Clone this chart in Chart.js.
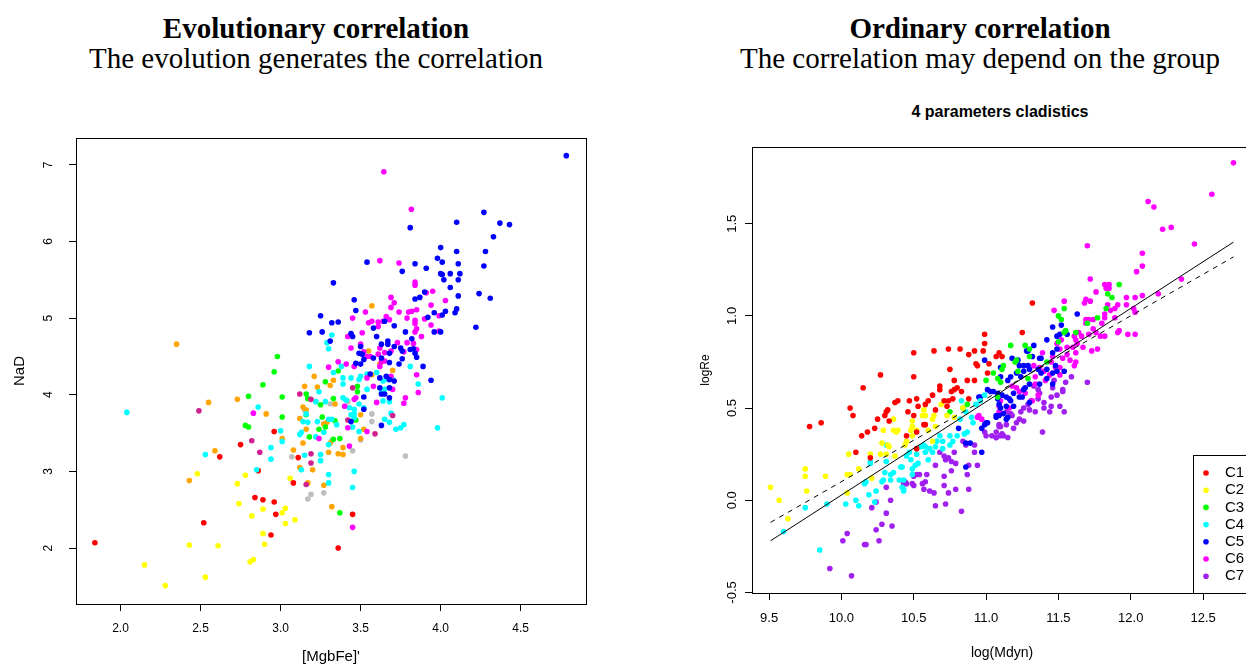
<!DOCTYPE html>
<html>
<head>
<meta charset="utf-8">
<script src="https://cdn.jsdelivr.net/npm/chart.js@4.4.0/dist/chart.umd.min.js"></script>
<style>
  html, body { margin: 0; padding: 0; background: #fff; }
  body { width: 1246px; height: 664px; position: relative; overflow: hidden; }
  .head { position: absolute; text-align: center; color: #000; white-space: nowrap;
          font-family: 'Liberation Serif', 'Times New Roman', serif; line-height: 30px; }
  .sub { position: absolute; text-align: center; color: #000; white-space: nowrap;
         font-family: 'Liberation Sans', Arial, sans-serif; font-weight: bold; }
  .panel { position: absolute; top: 0; }
</style>
</head>
<body>
<div class="head" style="left:0;width:632px;top:13px;font-size:29px;font-weight:bold">Evolutionary correlation</div>
<div class="head" style="left:0;width:632px;top:43px;font-size:29px">The evolution generates the correlation</div>
<div class="head" style="left:714px;width:532px;top:13px;font-size:29px;font-weight:bold">Ordinary correlation</div>
<div class="head" style="left:714px;width:532px;top:43px;font-size:29px">The correlation may depend on the group</div>
<div class="sub" style="left:800px;width:400px;top:103px;font-size:16px;line-height:18px">4 parameters cladistics</div>

<div class="panel" style="left:0;width:623px;height:664px"><canvas id="left" width="623" height="664"></canvas></div>
<div class="panel" style="left:623px;width:700px;height:664px"><canvas id="right" width="700" height="664"></canvas></div>

<script>
// ---- left panel: NaD vs [MgbFe]' ----
const leftXTicks = [2.0, 2.5, 3.0, 3.5, 4.0, 4.5];
const leftYTicks = [2, 3, 4, 5, 6, 7];

const leftRed = [[1.84,2.07],[2.52,2.33],[2.62,3.19],[2.75,3.35],[2.84,2.66],[2.86,3.01],[2.89,2.63],[2.94,2.17],
  [2.96,2.60],[2.96,3.52],[2.97,2.44],[3.08,2.85],[3.11,3.18],[3.36,2.00],[3.45,2.44]];
const leftYellow = [[2.15,1.78],[2.28,1.51],[2.43,2.04],[2.48,2.97],[2.53,1.62],[2.61,2.03],[2.73,2.84],[2.74,2.58],
  [2.78,2.95],[2.81,1.82],[2.82,2.42],[2.83,1.85],[2.89,2.51],[2.89,2.19],[2.90,2.05],[3.01,2.46],[3.03,2.52],
  [3.03,2.32],[3.06,2.91],[3.09,2.37]];
const leftOrange = [[2.35,4.66],[2.43,2.88],[2.55,3.90],[2.59,3.27],[2.73,3.94],[2.91,3.75],[3.01,3.43],[3.08,3.28],
  [3.12,3.05],[3.14,3.37],[3.17,2.85],[3.20,3.02],[3.27,2.82],[3.30,3.25],[3.32,2.54],[3.21,4.24],[3.33,4.19],
  [3.31,4.12],[3.15,4.11],[3.23,4.10],[3.14,3.84],[3.16,3.80],[3.12,3.69],[3.29,3.64],[3.27,3.62],[3.16,3.55],
  [3.31,3.37],[3.57,4.26],[3.70,4.32],[3.34,3.88],[3.50,3.74],[3.52,3.55],[3.50,3.43],[3.36,3.23],[3.39,3.22],
  [3.39,3.31],[3.57,5.16],[3.55,4.57],[3.62,4.40]];
const leftGreen = [[2.80,3.98],[2.89,4.13],[2.96,4.30],[2.78,3.60],[2.80,3.58],[3.01,3.97],[3.01,3.71],[2.98,4.50],
  [3.28,4.17],[3.16,4.01],[3.17,3.95],[3.25,3.87],[3.33,3.95],[3.16,3.74],[3.26,3.71],[3.24,3.55],[3.28,3.58],
  [3.18,3.45],[3.33,3.42],[3.36,4.31],[3.48,4.11],[3.48,4.04],[3.34,3.66],[3.47,3.67],[3.37,3.43],[3.37,2.46]];
const leftCyan = [[2.04,3.77],[2.53,3.22],[2.86,3.84],[2.85,3.02],[2.94,3.31],[2.94,3.16],[3.00,3.53],[3.01,3.39],
  [3.15,3.21],[3.13,3.02],[3.25,3.22],[3.25,3.14],[3.30,2.96],[3.30,2.85],[3.18,4.37],[3.24,4.04],[3.22,3.91],
  [3.28,3.91],[3.16,3.75],[3.14,3.65],[3.17,3.64],[3.23,3.65],[3.30,3.68],[3.32,3.68],[3.12,3.48],[3.13,3.51],
  [3.27,3.51],[3.30,3.35],[3.22,3.45],[3.32,4.78],[3.29,4.68],[3.30,4.60],[3.38,4.37],[3.81,4.37],[3.33,4.29],
  [3.39,4.22],[3.39,4.14],[3.44,4.22],[3.49,4.20],[3.50,4.24],[3.54,4.27],[3.60,4.29],[3.64,4.18],[3.67,4.20],
  [3.70,4.20],[3.65,4.07],[3.63,4.03],[3.39,3.96],[3.41,3.93],[3.43,3.83],[3.46,3.81],[3.49,3.88],[3.52,3.83],
  [3.54,4.07],[3.64,3.92],[3.68,3.91],[3.46,3.75],[3.44,3.74],[3.35,3.61],[3.46,3.70],[3.45,3.58],[3.49,3.52],
  [3.65,3.68],[3.68,3.64],[3.75,3.57],[3.77,3.61],[3.72,3.55],[3.69,3.76],[3.46,3.00],[3.45,2.79],[3.86,4.14],
  [4.01,3.96],[3.98,3.57]];
const leftBlue = [[3.33,5.46],[3.25,5.03],[3.32,4.94],[3.18,4.81],[3.26,4.82],[3.31,4.70],[4.785,7.12],[4.27,6.38],
  [4.10,6.25],[4.37,6.24],[4.43,6.22],[3.81,6.18],[4.33,6.06],[4.00,5.92],[4.10,5.87],[4.28,5.87],[3.54,5.73],
  [3.84,5.71],[3.98,5.78],[4.01,5.73],[4.11,5.71],[4.27,5.68],[3.76,5.61],[3.91,5.65],[4.00,5.58],[4.01,5.57],
  [4.06,5.58],[4.12,5.58],[4.02,5.50],[4.11,5.50],[4.06,5.40],[3.90,5.34],[4.11,5.29],[4.24,5.32],[4.31,5.26],
  [3.46,5.24],[3.84,5.25],[3.87,5.27],[3.47,5.10],[3.96,5.07],[4.01,5.04],[4.03,5.09],[4.09,5.07],[4.10,5.12],
  [3.65,4.96],[3.58,4.87],[3.92,5.01],[3.71,4.90],[3.96,4.82],[4.00,4.82],[4.22,4.88],[3.78,4.82],[3.82,4.73],
  [3.44,4.80],[3.45,4.76],[3.36,4.95],[3.60,4.76],[3.67,4.70],[3.67,4.66],[3.63,4.66],[3.71,4.63],[3.50,4.63],
  [3.75,4.61],[3.76,4.57],[3.81,4.59],[3.83,4.60],[3.84,4.54],[3.85,4.49],[3.76,4.47],[3.49,4.54],[3.51,4.53],
  [3.58,4.48],[3.63,4.48],[3.68,4.54],[3.52,4.46],[3.47,4.41],[3.50,4.40],[3.68,4.42],[3.74,4.40],[3.89,4.37],
  [3.94,4.19],[3.56,4.27],[3.62,4.22],[3.66,4.24],[3.68,4.20],[3.71,4.18],[3.62,4.09],[3.63,4.01],[3.65,4.01],
  [3.68,3.96],[3.52,3.97],[3.52,3.81],[3.44,3.65],[3.63,3.60],[3.68,4.09]];
const leftMagenta = [[3.645,6.91],[3.817,6.42],[3.62,5.75],[3.74,5.72],[3.84,5.47],[3.84,5.43],[3.95,5.35],
  [3.91,5.33],[3.69,5.27],[3.71,5.20],[3.69,5.14],[3.94,5.17],[4.03,5.23],[3.53,5.08],[3.74,5.08],[3.80,5.08],
  [3.82,5.09],[3.85,5.11],[3.99,5.03],[3.45,5.00],[3.66,5.02],[3.64,4.96],[3.68,4.98],[3.55,4.94],[3.57,4.96],
  [3.61,4.95],[3.61,4.89],[3.79,5.00],[3.84,4.97],[3.84,4.93],[3.85,4.86],[3.84,4.82],[3.90,4.99],[3.94,4.91],
  [3.88,4.76],[3.99,4.83],[3.51,4.81],[3.42,4.76],[3.73,4.68],[3.79,4.68],[3.83,4.67],[3.50,4.66],[3.44,4.61],
  [3.62,4.61],[3.85,4.59],[3.77,4.56],[3.69,4.57],[3.65,4.55],[3.61,4.53],[3.52,4.56],[3.54,4.50],[3.56,4.50],
  [3.36,4.43],[3.41,4.40],[3.46,4.37],[3.62,4.37],[3.63,4.43],[3.65,4.44],[3.30,4.36],[3.85,4.26],[3.86,4.03],
  [3.78,3.96],[3.77,3.89],[3.54,4.22],[3.58,4.11],[3.70,4.07],[3.47,3.96],[3.46,3.94],[3.40,3.85],[3.60,3.90],
  [3.42,3.57],[3.54,3.52],[3.43,3.33],[3.69,4.24],[3.45,2.27],[2.83,3.76],[3.24,3.43]];
const leftVioletRed = [[2.49,3.79],[2.82,3.40],[2.87,3.25],[3.19,3.23],[3.19,3.11],[3.16,2.83],[3.12,4.01],
  [3.19,3.94],[3.70,3.73],[3.59,3.49],[3.42,3.67],[3.45,4.09]];
const leftGray = [[3.07,3.19],[3.19,2.70],[3.17,2.64],[3.27,2.72],[3.15,3.80],[3.32,3.40],[3.31,3.88],[3.42,3.91],
  [3.57,3.75],[3.57,3.65],[3.50,3.41],[3.45,3.27],[3.78,3.20]];

// ---- right panel: logRe vs log(Mdyn), 4 parameters cladistics ----
const rightXTicks = [9.5, 10.0, 10.5, 11.0, 11.5, 12.0, 12.5];
const rightYTicks = [-0.5, 0.0, 0.5, 1.0, 1.5];
const groupNames = ['C1', 'C2', 'C3', 'C4', 'C5', 'C6', 'C7'];

const rightC1 = [[10.50,0.80],[10.64,0.81],[10.74,0.82],[10.82,0.82],[10.92,0.81],[10.98,0.81],[10.99,0.90],
  [10.99,0.85],[10.88,0.79],[10.93,0.74],[11.02,0.74],[11.07,0.78],[11.09,0.80],[10.75,0.71],[11.32,1.07],
  [11.25,0.91],[11.11,0.78],[9.78,0.40],[9.86,0.42],[10.06,0.50],[10.08,0.46],[10.15,0.61],[10.27,0.68],
  [10.14,0.35],[10.18,0.37],[10.23,0.39],[10.25,0.44],[10.30,0.46],[10.31,0.48],[10.32,0.49],[10.33,0.43],
  [10.37,0.53],[10.39,0.54],[10.10,0.26],[10.20,0.23],[10.46,0.48],[10.50,0.46],[10.52,0.55],[10.53,0.51],
  [10.50,0.67],[10.52,0.37],[10.57,0.41],[10.58,0.41],[10.45,0.35],[10.52,0.28],[10.58,0.52],[10.60,0.54],
  [10.63,0.57],[10.65,0.49],[10.68,0.60],[10.68,0.62],[10.71,0.54],[10.73,0.51],[10.74,0.54],[10.76,0.59],
  [10.77,0.55],[10.78,0.60],[10.80,0.61],[10.83,0.59],[10.78,0.65],[10.87,0.65],[10.92,0.65],[10.88,0.55],
  [10.94,0.73],[11.01,0.69],[10.47,0.54]];
const rightC2 = [[9.51,0.07],[9.57,0.00],[9.63,-0.10],[9.75,0.17],[9.75,0.13],[9.76,0.05],[9.89,0.13],[10.05,0.25],
  [10.06,0.14],[10.04,0.14],[10.12,0.17],[10.04,0.04],[10.20,0.25],[10.27,0.25],[10.21,0.12],[10.28,0.31],
  [10.32,0.30],[10.33,0.29],[10.29,0.38],[10.36,0.38],[10.38,0.37],[10.39,0.38],[10.36,0.44],[10.31,0.25],
  [10.37,0.24],[10.45,0.32],[10.44,0.30],[10.49,0.43],[10.49,0.40],[10.48,0.38],[10.52,0.38],[10.49,0.35],
  [10.56,0.46],[10.58,0.46],[10.57,0.49],[10.64,0.46],[10.63,0.44],[10.65,0.40],[10.60,0.38],[10.63,0.32],
  [10.73,0.46],[10.69,0.52],[10.78,0.45],[10.84,0.50]];
const rightC3 = [[11.92,1.17],[11.84,1.12],[11.87,1.10],[11.83,1.04],[11.54,1.04],[11.50,1.00],[11.52,0.98],
  [11.70,0.96],[11.77,0.99],[11.62,0.91],[11.55,0.92],[11.54,0.91],[11.50,0.86],[11.17,0.84],[11.27,0.84],
  [11.30,0.82],[11.21,0.76],[11.20,0.75],[11.30,0.78],[11.42,0.75],[11.11,0.71],[11.00,0.65],[11.05,0.69],
  [11.08,0.66],[10.75,0.48],[10.84,0.50],[10.87,0.52],[11.10,0.64],[11.22,0.70],[11.29,0.66],[11.08,0.56],
  [11.12,0.73]];
const rightC4 = [[9.60,-0.17],[9.85,-0.27],[9.75,-0.04],[9.90,-0.02],[10.03,-0.02],[10.10,0.00],[10.12,-0.03],
  [10.19,0.03],[10.23,-0.01],[10.24,0.05],[10.17,0.10],[10.16,0.09],[10.20,0.20],[10.20,0.21],[10.28,0.10],
  [10.29,0.11],[10.31,0.21],[10.30,0.15],[10.34,0.14],[10.36,0.15],[10.34,0.11],[10.40,0.11],[10.42,0.18],
  [10.41,0.18],[10.43,0.06],[10.43,0.05],[10.42,0.07],[10.45,0.24],[10.47,0.26],[10.48,0.22],[10.51,0.19],
  [10.53,0.20],[10.52,0.25],[10.55,0.29],[10.57,0.30],[10.58,0.29],[10.61,0.28],[10.58,0.26],[10.63,0.26],
  [10.60,0.22],[10.49,0.17],[10.49,0.14],[10.43,0.11],[10.70,0.32],[10.70,0.28],[10.75,0.30],[10.75,0.35],
  [10.77,0.32],[10.80,0.35],[10.85,0.36],[10.87,0.37],[10.82,0.44],[10.83,0.54],[10.86,0.48],[10.93,0.52],
  [10.99,0.57],[10.96,0.54],[10.90,0.45],[10.91,0.42],[10.68,0.35],[10.66,0.32],[10.65,0.29],[10.31,0.30]];
const rightC5 = [[10.99,0.76],[11.10,0.72],[11.63,1.01],[11.52,0.95],[11.46,0.94],[11.51,0.90],[11.49,0.89],
  [11.56,0.90],[11.42,0.87],[11.33,0.84],[11.29,0.81],[11.28,0.81],[11.32,0.78],[11.18,0.77],[11.22,0.76],
  [11.37,0.77],[11.38,0.77],[11.49,0.82],[11.46,0.80],[11.23,0.73],[11.26,0.73],[11.29,0.73],[11.36,0.71],
  [11.48,0.73],[10.81,0.39],[10.86,0.31],[10.86,0.18],[10.89,0.31],[10.97,0.26],[10.97,0.39],[11.00,0.42],
  [10.99,0.41],[11.01,0.42],[11.01,0.60],[11.03,0.59],[11.05,0.59],[11.08,0.55],[11.09,0.52],[11.09,0.46],
  [11.07,0.46],[11.08,0.58],[10.96,0.56],[10.95,0.56],[11.54,0.70],[11.49,0.70],[11.46,0.69],[11.42,0.71],
  [11.38,0.69],[11.30,0.71],[11.26,0.70],[11.24,0.67],[11.21,0.69],[11.17,0.67],[11.15,0.65],[11.10,0.67],
  [11.11,0.57],[11.14,0.56],[11.16,0.55],[11.19,0.58],[11.23,0.56],[11.25,0.56],[11.26,0.60],[11.27,0.61],
  [11.30,0.63],[11.17,0.54],[11.19,0.51],[11.14,0.51],[11.10,0.50],[11.15,0.45],[11.14,0.44],[11.07,0.45],
  [11.12,0.47],[11.46,0.63],[11.37,0.63],[11.42,0.66],[11.30,0.53]];
const rightC6 = [[12.71,1.83],[12.56,1.66],[12.12,1.62],[12.16,1.59],[12.22,1.47],[12.28,1.48],[12.44,1.39],
  [11.70,1.38],[12.08,1.34],[12.08,1.27],[12.04,1.24],[11.72,1.20],[12.35,1.20],[11.82,1.17],[11.85,1.17],
  [11.83,1.15],[11.85,1.15],[11.76,1.13],[12.19,1.12],[11.97,1.10],[12.03,1.10],[12.08,1.11],[11.69,1.09],
  [11.72,1.08],[11.68,1.07],[11.54,1.08],[11.47,1.03],[11.84,1.06],[11.97,1.06],[12.02,1.04],[12.03,1.02],
  [11.91,1.06],[11.89,1.04],[11.86,1.03],[11.82,1.01],[11.82,0.99],[11.89,0.99],[11.69,0.98],[11.71,0.98],
  [11.74,0.98],[11.69,0.96],[11.80,0.96],[11.74,0.93],[11.76,0.91],[11.71,0.90],[11.66,0.89],[11.64,0.91],
  [11.79,0.89],[11.82,0.89],[11.92,0.92],[11.91,0.91],[11.98,0.90],[12.03,0.90],[11.61,0.89],[11.62,0.87],
  [11.63,0.85],[11.60,0.83],[11.67,0.83],[11.73,0.81],[11.77,0.82],[11.56,0.83],[11.52,0.87],[11.49,0.85],
  [11.51,0.82],[11.56,0.79],[11.62,0.80],[11.58,0.76],[11.62,0.75],[11.53,0.77],[11.46,0.78],[11.45,0.75],
  [11.39,0.80],[11.51,0.72],[10.94,0.45],[10.97,0.44],[10.95,0.46],[11.09,0.48],[11.33,0.73],[11.37,0.72],
  [11.40,0.70],[11.48,0.72],[11.34,0.67],[11.23,0.59],[11.21,0.61],[11.18,0.62],[11.27,0.58],[11.36,0.57],
  [11.10,0.54],[11.09,0.51],[11.16,0.50],[11.32,0.54],[11.34,0.63],[11.41,0.65],[11.44,0.68],[11.51,0.68],
  [11.61,0.73]];
const rightC7 = [[9.92,-0.37],[10.07,-0.41],[10.04,-0.18],[10.01,-0.22],[10.16,-0.24],[10.17,-0.24],[10.26,-0.22],
  [10.24,-0.16],[10.28,-0.13],[10.35,-0.14],[10.31,-0.07],[10.21,-0.04],[10.24,-0.01],[10.34,0.00],[10.31,0.07],
  [10.43,0.09],[10.45,0.09],[10.44,0.10],[10.50,0.08],[10.49,0.09],[10.50,0.13],[10.52,0.14],[10.54,0.14],
  [10.59,0.14],[10.56,0.09],[10.58,0.10],[10.57,0.06],[10.61,0.05],[10.64,0.04],[10.65,-0.03],[10.72,-0.02],
  [10.65,0.19],[10.71,0.13],[10.71,0.08],[10.74,0.04],[10.76,0.16],[10.79,0.06],[10.83,-0.06],[10.88,0.06],
  [10.68,0.26],[10.71,0.24],[10.72,0.22],[10.74,0.23],[10.76,0.21],[10.78,0.26],[10.79,0.20],[10.84,0.32],
  [10.86,0.30],[10.92,0.30],[10.92,0.26],[10.87,0.14],[10.88,0.19],[10.94,0.19],[10.99,0.37],[11.00,0.35],
  [11.04,0.35],[11.07,0.34],[11.10,0.35],[11.09,0.41],[11.70,0.64],[11.59,0.67],[11.55,0.64],[11.53,0.60],
  [11.49,0.57],[11.45,0.56],[11.53,0.59],[11.45,0.51],[11.40,0.53],[11.51,0.51],[11.54,0.48],[11.40,0.50],
  [11.44,0.48],[11.39,0.37],[11.34,0.48],[11.30,0.49],[11.26,0.50],[11.24,0.48],[11.29,0.52],[11.31,0.54],
  [11.36,0.55],[11.37,0.58],[11.26,0.43],[11.21,0.42],[11.23,0.44],[11.19,0.39],[11.14,0.41],[11.10,0.40],
  [11.11,0.36],[11.15,0.34],[11.12,0.35],[11.07,0.37],[11.07,0.34],[11.09,0.40],[11.46,0.61],[11.47,0.65],
  [11.33,0.62],[11.36,0.60],[11.17,0.47],[11.18,0.46],[11.14,0.48]];

// regression lines (end points)
const fitX = [9.51, 12.71];
const fitSolid = [-0.22, 1.40];
const fitDashed = [-0.12, 1.32];

Chart.defaults.font.family = "'Liberation Sans', Arial, Helvetica, sans-serif";
Chart.defaults.color = '#000';
Chart.defaults.animation = false;

function pts(arr) {
  return arr.map(p => ({ x: p[0], y: p[1] }));
}

function group(label, arr, color) {
  return {
    type: 'scatter', label, data: pts(arr),
    backgroundColor: color, borderWidth: 0,
    pointRadius: 2.8, pointHoverRadius: 2.8, pointBorderWidth: 0
  };
}

function fitLine(ys, dash) {
  return {
    type: 'line', label: 'fit', isFit: true,
    data: fitX.map((x, i) => ({ x, y: ys[i] })),
    borderColor: '#000', borderWidth: 1, borderDash: dash,
    pointRadius: 0, fill: false, tension: 0
  };
}

// R style: plain box round the plotting region
const frame = {
  id: 'frame',
  afterDraw(chart) {
    const { ctx, chartArea: a } = chart;
    ctx.save();
    ctx.strokeStyle = '#000';
    ctx.lineWidth = 1;
    ctx.strokeRect(a.left + 0.5, a.top + 0.5, a.right - a.left, a.bottom - a.top);
    ctx.restore();
  }
};

function axis(o) {
  return {
    type: 'linear', min: o.min, max: o.max,
    afterBuildTicks: s => { s.ticks = o.ticks.map(v => ({ value: v })); },
    afterFit: s => { if (o.width) s.width = o.width; if (o.height) s.height = o.height; },
    grid: { drawOnChartArea: false, drawTicks: true, tickLength: 7, color: '#000' },
    border: { display: false },
    ticks: Object.assign({
      autoSkip: false, font: { size: o.tickSize || 12 }, padding: o.pad,
      callback: v => v.toFixed(o.digits)
    }, o.vertical ? { minRotation: 90, maxRotation: 90, crossAlign: 'center' } : { maxRotation: 0 }),
    title: { display: true, text: o.title, font: { size: o.titleSize }, padding: o.titlePad }
  };
}

new Chart(document.getElementById('left'), {
  type: 'scatter',
  data: {
    datasets: [
      group('blue', leftBlue, '#0000ff'),
      group('magenta', leftMagenta, '#ff00ff'),
      group('violetred', leftVioletRed, '#d02090'),
      group('cyan', leftCyan, '#00ffff'),
      group('green', leftGreen, '#00ff00'),
      group('orange', leftOrange, '#ffa500'),
      group('gray', leftGray, '#bebebe'),
      group('red', leftRed, '#ff0000'),
      group('yellow', leftYellow, '#ffff00')
    ]
  },
  options: {
    responsive: false,
    layout: { padding: { top: 138, right: 37, bottom: 0, left: 0 } },
    plugins: { legend: { display: false }, tooltip: { enabled: false } },
    scales: {
      x: axis({ min: 1.722, max: 4.908, ticks: leftXTicks, digits: 1, height: 60, pad: 10,
                title: "[MgbFe]'", titleSize: 15, titlePad: { top: 0, bottom: -2 } }),
      y: axis({ min: 1.27, max: 7.35, ticks: leftYTicks, digits: 0, width: 76, pad: 17, vertical: true,
                title: 'NaD', titleSize: 15, titlePad: { top: 11, bottom: 0 } })
    }
  },
  plugins: [frame]
});

// legend in the lower right corner, cut by the page edge like the picture
const groupLegend = {
  id: 'groupLegend',
  afterDraw(chart) {
    const { ctx, chartArea: a } = chart;
    const items = chart.data.datasets.filter(d => !d.isFit);
    const x0 = 570, y0 = 455;
    ctx.save();
    ctx.strokeStyle = '#000';
    ctx.lineWidth = 1;
    ctx.strokeRect(x0 + 0.5, y0 + 0.5, a.right - x0, a.bottom - y0);
    ctx.font = "15px 'Liberation Sans', Arial, sans-serif";
    ctx.textBaseline = 'middle';
    items.forEach((d, i) => {
      const y = 473 + i * 17.2;
      ctx.fillStyle = d.backgroundColor;
      ctx.beginPath();
      ctx.arc(583, y, 2.8, 0, Math.PI * 2);
      ctx.fill();
      ctx.fillStyle = '#000';
      ctx.fillText(d.label, 602, y);
    });
    ctx.restore();
  }
};

const rightColors = ['#ff0000', '#ffff00', '#00ff00', '#00ffff', '#0000ff', '#ff00ff', '#a020f0'];
const rightGroups = [rightC1, rightC2, rightC3, rightC4, rightC5, rightC6, rightC7];

new Chart(document.getElementById('right'), {
  type: 'scatter',
  data: {
    datasets: [fitLine(fitSolid, []), fitLine(fitDashed, [5, 5])]
      .concat(rightGroups.map((g, i) => group(groupNames[i], g, rightColors[i])))
  },
  options: {
    responsive: false,
    layout: { padding: { top: 147, right: 71, bottom: 0, left: 0 } },
    plugins: { legend: { display: false }, tooltip: { enabled: false } },
    scales: {
      x: axis({ min: 9.382, max: 12.838, ticks: rightXTicks, digits: 1, height: 71, pad: 11, tickSize: 13,
                title: 'log(Mdyn)', titleSize: 14, titlePad: { top: 0, bottom: 2 } }),
      y: axis({ min: -0.503, max: 1.916, ticks: rightYTicks, digits: 1, width: 129, pad: 1, vertical: true,
                tickSize: 13, title: 'logRe', titleSize: 12, titlePad: { top: 75, bottom: 0 } })
    }
  },
  plugins: [frame, groupLegend]
});
</script>
</body>
</html>
